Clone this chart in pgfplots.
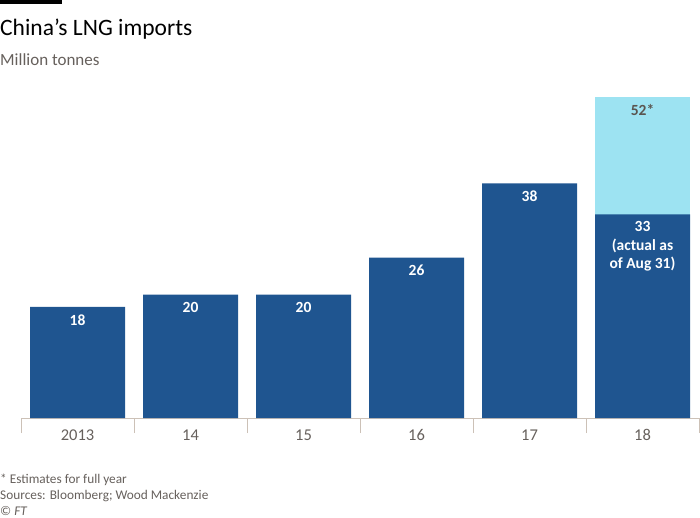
\documentclass[border=0pt]{standalone}
\usepackage{pgfplots}
\pgfplotsset{compat=1.18}
\usepackage{fontspec}
\setmainfont{Carlito}
\definecolor{ftdark}{HTML}{1F5590}
\definecolor{ftlight}{HTML}{9DE3F2}
\definecolor{ftgray}{HTML}{66605C}
\definecolor{ftlabel}{HTML}{5A5550}
\definecolor{ftaxis}{HTML}{CCC1B7}
\begin{document}
\begin{tikzpicture}[x=1pt,y=1pt]
\fill[black] (0,0) rectangle (62,-4);
\node[anchor=base west, inner sep=0, font=\fontsize{23.5}{27}\selectfont] at (0,-36) {China’s LNG imports};
\node[anchor=base west, inner sep=0, text=ftgray, font=\fontsize{17}{20}\selectfont] at (0,-66) {Million tonnes};
\begin{axis}[at={(21pt,-418pt)}, anchor=south west, scale only axis,
  width=678pt, height=321pt, xmin=-0.5, xmax=5.5, ymin=0, ymax=52,
  clip=false,
  axis y line=none, axis x line=bottom,
  x axis line style={-, draw=ftaxis, line width=1pt},
  ytick=\empty,
  xtick={0,1,2,3,4,5},
  xticklabels={2013,14,15,16,17,18},
  major tick length=0pt,
  minor xtick={-0.5,0.5,1.5,2.5,3.5,4.5,5.5},
  minor tick length=15pt, tick align=outside,
  minor tick style={draw=ftaxis, line width=1pt},
  xticklabel style={text=ftgray, font=\fontsize{16.5}{19}\selectfont, yshift=-8pt},
  ybar, bar width=95pt, bar shift=0pt,
  nodes near coords, point meta=explicit symbolic,
  every node near coord/.append style={anchor=north, yshift=-4pt, align=center,
     font=\bfseries\fontsize{15.5}{18.5}\selectfont},
]
\addplot[fill=ftlight, draw=none, nodes near coords style={text=ftlabel}]
  coordinates {(5,52) [52*]};
\addplot[fill=ftdark, draw=none, nodes near coords style={text=white}]
  coordinates {(0,18) [18] (1,20) [20] (2,20) [20] (3,26) [26] (4,38) [38] (5,33) [{33\\(actual as\\of Aug 31)}]};
\end{axis}
\begin{scope}[every node/.style={anchor=base west, inner sep=0, text=ftgray, font=\fontsize{13.3}{16}\selectfont}]
\node at (0,-483) {* Estimates for full year};
\node at (0,-499) {Sources: Bloomberg; Wood Mackenzie};
\node at (0,-515) {© \textit{FT}};
\end{scope}
\pgfresetboundingbox
\path[use as bounding box] (0,0) rectangle (700,-518);
\end{tikzpicture}
\end{document}
